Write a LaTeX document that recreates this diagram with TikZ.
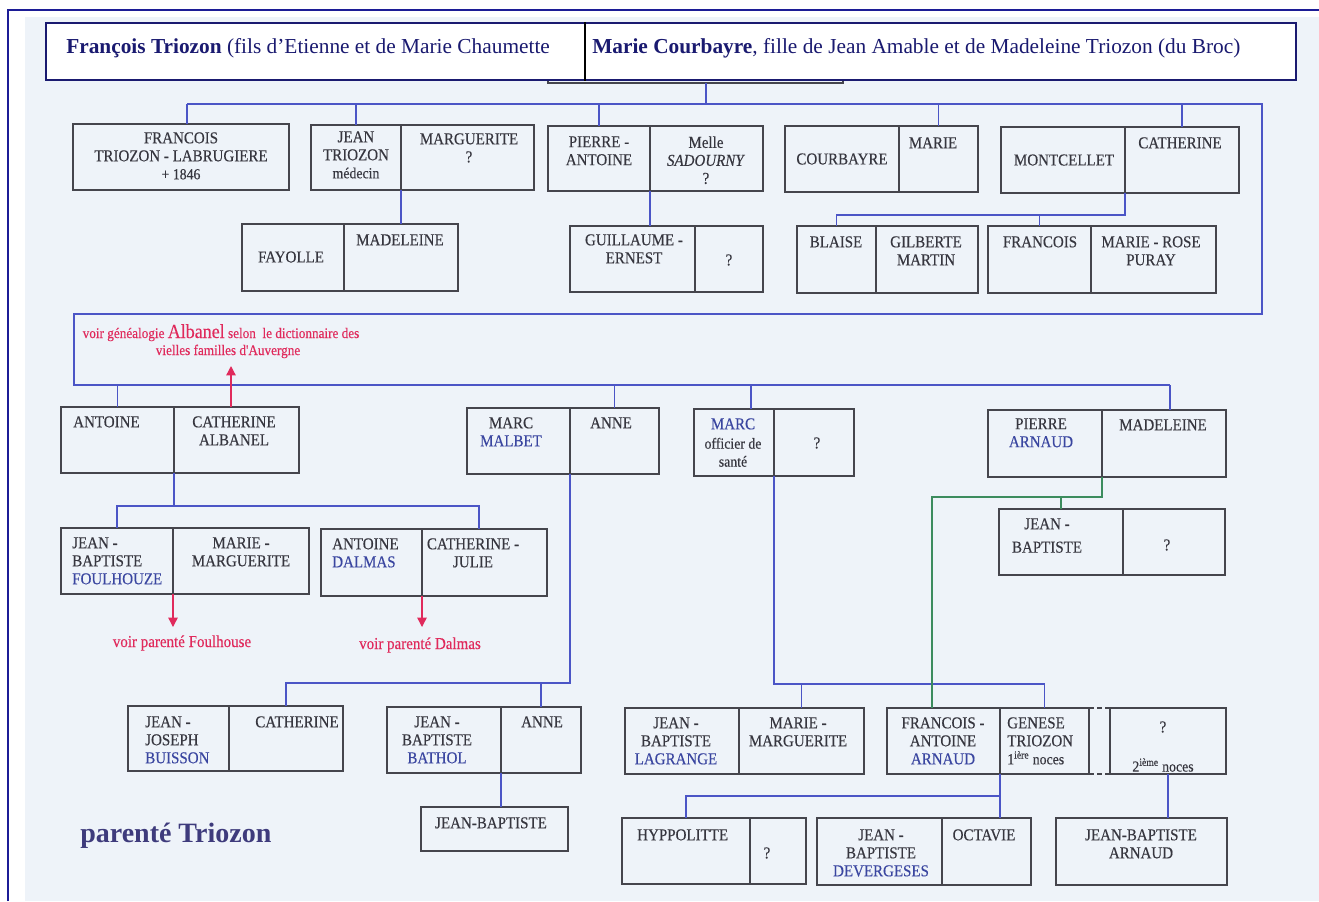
\documentclass[tikz,border=0pt]{standalone}
\usepackage{fontspec}
\setmainfont{Liberation Serif}
\newfontfamily\scanfont{Liberation Serif}[FakeStretch=0.9, FakeBold=0.3]
\usetikzlibrary{fit,arrows.meta}

\definecolor{frameblue}{HTML}{1C1C96}
\definecolor{headnavy}{HTML}{1A1A70}
\definecolor{scanbg}{HTML}{EEF3F9}
\definecolor{boxgray}{HTML}{45454D}
\definecolor{linkblue}{HTML}{4B55C6}
\definecolor{linkgreen}{HTML}{3C8C5E}
\definecolor{crimson}{HTML}{E02A5C}
\definecolor{txtgray}{HTML}{36363F}
\definecolor{nameblue}{HTML}{3A46A0}
\definecolor{titlenavy}{HTML}{3E3B7C}

\newcommand{\bx}{\scanfont\fontsize{12.5}{13.5}\selectfont}
\newcommand{\sm}{\fontsize{11.5}{12.5}\selectfont}
\newcommand{\nb}[1]{\textcolor{nameblue}{#1}}

\begin{document}
\begin{tikzpicture}[x=0.75pt,y=-0.75pt,
	half/.style={draw=boxgray, line width=1.1pt, inner sep=0pt, outer sep=0pt},
	nm/.style={text=txtgray, font=\bx, align=center, inner sep=0pt, anchor=north},
	nml/.style={nm, align=left, anchor=north west},
	lnk/.style={draw=linkblue, line width=0.9pt},
	grn/.style={draw=linkgreen, line width=0.9pt},
	rd/.style={draw=crimson, line width=1pt, -{Triangle[length=7pt,width=7pt]}},
	rtxt/.style={text=crimson, inner sep=0pt, anchor=base}]
	\useasboundingbox (0,0) rectangle (1319,901);
	\fill[scanbg] (25,17) rectangle (1319,901);
	\draw[frameblue, line width=1.5pt] (8,901) -- (8,10) -- (1319,10);

	% header
	\node[half, fit={(548,66)(843,83)}] (hid) {};
	\node[draw=headnavy, fill=white, line width=1.3pt, inner sep=0pt, fit={(46,23)(1296,80)}] (hd) {};
	\draw[black, line width=1pt] (hd.north -| 585,0) -- (hd.south -| 585,0);
	\node[anchor=base west, text=headnavy, font=\fontsize{16}{18}\selectfont, inner sep=0pt] (hdl) at (66,53) {\textbf{François Triozon} (fils d’Etienne et de Marie Chaumette};
	\node[anchor=base west, text=headnavy, font=\fontsize{16}{18}\selectfont, inner sep=0pt] (hdr) at (592,53) {\textbf{Marie Courbayre}, fille de Jean Amable et de Madeleine Triozon (du Broc)};

	% first generation
	\node[half, fit={(73,124)(289,190)}] (fran) {};
	\node[half, fit={(311,125)(401,190)}] (jeanL) {};
	\node[half, fit={(401,125)(534,190)}] (jeanR) {};
	\node[half, fit={(548,126)(650,191)}] (pierL) {};
	\node[half, fit={(650,126)(763,191)}] (pierR) {};
	\node[half, fit={(785,126)(899,192)}] (courL) {};
	\node[half, fit={(899,126)(978,192)}] (courR) {};
	\node[half, fit={(1001,127)(1125,193)}] (montL) {};
	\node[half, fit={(1125,127)(1239,193)}] (montR) {};

	\node[nm] (tFran) at (181,132) {FRANCOIS\\TRIOZON - LABRUGIERE\\{\sm + 1846}};
	\node[nm] (tJean) at (356,131) {JEAN\\TRIOZON\\{\sm médecin}};
	\node[nm] (tMarg) at (469,133) {MARGUERITE\\?};
	\node[nm] (tPier) at (599,136) {PIERRE -\\ANTOINE};
	\node[nm] (tSad) at (706,136) {Melle\\\textit{SADOURNY}\\?};
	\node[nm, anchor=center] (tCour) at (842,159) {COURBAYRE};
	\node[nm] (tMarie) at (933,137) {MARIE};
	\node[nm, anchor=center] (tMont) at (1064,160) {MONTCELLET};
	\node[nm] (tCath) at (1180,137) {CATHERINE};

	% second row
	\node[half, fit={(242,224)(344,291)}] (fayL) {};
	\node[half, fit={(344,224)(458,291)}] (fayR) {};
	\node[half, fit={(570,226)(695,292)}] (guilL) {};
	\node[half, fit={(695,226)(763,292)}] (guilR) {};
	\node[half, fit={(797,226)(876,293)}] (blaiL) {};
	\node[half, fit={(876,226)(978,293)}] (blaiR) {};
	\node[half, fit={(988,226)(1091,293)}] (fraL) {};
	\node[half, fit={(1091,226)(1216,293)}] (fraR) {};

	\node[nm, anchor=center] (tFay) at (291,257) {FAYOLLE};
	\node[nm] (tMad) at (400,234) {MADELEINE};
	\node[nm] (tGuil) at (634,234) {GUILLAUME -\\ERNEST};
	\node[nm, anchor=center] (tGq) at (729,260) {?};
	\node[nm] (tBla) at (836,236) {BLAISE};
	\node[nm] (tGil) at (926,236) {GILBERTE\\MARTIN};
	\node[nm] (tFra) at (1040,236) {FRANCOIS};
	\node[nm] (tRose) at (1151,236) {MARIE - ROSE\\PURAY};

	\coordinate (b1w) at (187,104);
	\coordinate (b1e) at (1262,104);
	\coordinate (b2w) at (74,314);
	\coordinate (b3e) at (1170,385);
	\coordinate (b8) at (1125,215);
	\draw[lnk] (hid.south -| 706,0) -- (706,104);
	\draw[lnk] (b1w) -- (b1e) -- (b1e |- b2w) -- (b2w) -- (b2w |- b3e) -- (b3e);
	\draw[lnk] (b1w) -- (b1w |- fran.north);
	\draw[lnk] (jeanL.north) -- (jeanL.north |- b1w);
	\draw[lnk] (pierL.north) -- (pierL.north |- b1w);
	\draw[lnk] (courR.north) -- (courR.north |- b1w);
	\draw[lnk] (montR.north) -- (montR.north |- b1w);
	\draw[lnk] (jeanL.south east) -- (jeanL.south east |- fayR.north);
	\draw[lnk] (pierL.south east) -- (pierL.south east |- guilL.north);
	\draw[lnk] (montL.south east) -- (b8) -| (blaiL.north);
	\draw[lnk] (b8 -| fraL.north) -- (fraL.north);

	% Albanel note
	\coordinate (ra) at (231,366);
	\node[rtxt, font=\scanfont\fontsize{11}{12}\selectfont] (alb1) at (221,338) {voir généalogie {\fontsize{15}{15}\selectfont Albanel} selon\ \ le dictionnaire des};
	\node[rtxt, font=\scanfont\fontsize{11}{12}\selectfont] (alb2) at (228,355) {vielles familles d'Auvergne};

	% third row
	\node[half, fit={(61,407)(174,473)}] (antL) {};
	\node[half, fit={(174,407)(299,473)}] (antR) {};
	\node[half, fit={(467,408)(570,474)}] (malL) {};
	\node[half, fit={(570,408)(659,474)}] (malR) {};
	\node[half, fit={(694,409)(774,476)}] (marcL) {};
	\node[half, fit={(774,409)(854,476)}] (marcR) {};
	\node[half, fit={(988,410)(1102,477)}] (arnL) {};
	\node[half, fit={(1102,410)(1226,477)}] (arnR) {};
	\node[half, fit={(999,509)(1123,575)}] (jbL) {};
	\node[half, fit={(1123,509)(1225,575)}] (jbR) {};

	\node[nml] (tAnt) at (73,416) {ANTOINE};
	\node[nm] (tCatA) at (234,416) {CATHERINE\\ALBANEL};
	\node[nm] (tMalb) at (511,417) {MARC\\\nb{MALBET}};
	\node[nm] (tAnne) at (611,417) {ANNE};
	\node[nm] (tMarc) at (733,418) {\nb{MARC}\\[1pt]{\sm officier de}\\{\sm santé}};
	\node[nm, anchor=center] (tMq) at (817,443) {?};
	\node[nm] (tPA) at (1041,418) {PIERRE\\\nb{ARNAUD}};
	\node[nm] (tMad2) at (1163,419) {MADELEINE};
	\node[nm] (tJB) at (1047,518) {JEAN -\\[4pt]BAPTISTE};
	\node[nm, anchor=center] (tJBq) at (1167,545) {?};

	\draw[lnk] (antL.north) -- (antL.north |- b3e);
	\draw[lnk] (malR.north) -- (malR.north |- b3e);
	\coordinate (dm) at (751,385);
	\draw[lnk] (dm) -- (dm |- marcL.north);
	\draw[lnk] (b3e) -- (b3e |- arnR.north);
	\draw[rd] (ra |- antR.north) -- (ra);

	% fourth row
	\node[half, fit={(61,528)(173,594)}] (fouL) {};
	\node[half, fit={(173,528)(309,594)}] (fouR) {};
	\node[half, fit={(321,529)(422,596)}] (dalL) {};
	\node[half, fit={(422,529)(547,596)}] (dalR) {};

	\node[nml] (tFou) at (72,537) {JEAN -\\BAPTISTE\\\nb{FOULHOUZE}};
	\node[nm] (tMM) at (241,537) {MARIE -\\MARGUERITE};
	\node[nml] (tDal) at (332,538) {ANTOINE\\\nb{DALMAS}};
	\node[nm] (tCJ) at (473,538) {CATHERINE -\\JULIE};

	\coordinate (b4e) at (479,506);
	\draw[lnk] (antL.south east) -- (antL.south east |- b4e);
	\draw[lnk] (fouL.north) |- (b4e) -- (b4e |- dalR.north);

	\coordinate (fh) at (173,627);
	\coordinate (dh) at (422,627);
	\draw[rd] (fouL.south east) -- (fh);
	\draw[rd] (dalL.south east) -- (dh);
	\node[rtxt, font=\scanfont\fontsize{12.5}{13}\selectfont] (fht) at (182,647) {voir parenté Foulhouse};
	\node[rtxt, font=\scanfont\fontsize{12.5}{13}\selectfont] (dht) at (420,649) {voir parenté Dalmas};

	% fifth row
	\node[half, fit={(128,706)(229,771)}] (buiL) {};
	\node[half, fit={(229,706)(343,771)}] (buiR) {};
	\node[half, fit={(387,707)(501,773)}] (batL) {};
	\node[half, fit={(501,707)(581,773)}] (batR) {};
	\node[half, fit={(421,807)(568,851)}] (jbb) {};
	\node[half, fit={(625,708)(739,774)}] (lagL) {};
	\node[half, fit={(739,708)(864,774)}] (lagR) {};
	\node[half, fit={(887,708)(1000,774)}] (genL) {};
	\node[half, fit={(1000,708)(1089,774)}] (genR) {};
	\node[half, fit={(1110,708)(1226,774)}] (sec) {};

	\node[nml] (tBui) at (145,716) {JEAN -\\JOSEPH\\\nb{BUISSON}};
	\node[nm] (tCat3) at (297,716) {CATHERINE};
	\node[nm] (tBat) at (437,716) {JEAN -\\BAPTISTE\\\nb{BATHOL}};
	\node[nm] (tAnne2) at (542,716) {ANNE};
	\node[nm] (tJbb) at (491,817) {JEAN-BAPTISTE};
	\node[nm] (tLag) at (676,717) {JEAN -\\BAPTISTE\\\nb{LAGRANGE}};
	\node[nm] (tMM2) at (798,717) {MARIE -\\MARGUERITE};
	\node[nm] (tFA) at (943,717) {FRANCOIS -\\ANTOINE\\\nb{ARNAUD}};
	\node[nml] (tGen) at (1007,717) {GENESE\\TRIOZON\\{\sm 1\textsuperscript{ière} noces}};
	\node[nm, anchor=center] (tSecq) at (1163,727) {?};
	\node[nm, anchor=center, font=\bx\sm] (tSec) at (1163,765) {2\textsuperscript{ième} noces};

	\coordinate (b5) at (570,683);
	\draw[lnk] (malL.south east) -- (b5) -| (buiR.north);
	\draw[lnk] (b5 -| batR.north) -- (batR.north);
	\draw[lnk] (batL.south east) -- (batL.south east |- jbb.north);
	\coordinate (b6) at (774,684);
	\draw[lnk] (marcL.south east) -- (b6) -| (genR.north);
	\draw[lnk] (b6 -| lagR.north) -- (lagR.north);
	\coordinate (g1) at (1102,497);
	\coordinate (g2) at (932,497);
	\draw[grn] (arnL.south east) -- (g1) -| (jbL.north);
	\draw[grn] (g1) -- (g2) -- (g2 |- genL.north);
	\draw[boxgray, line width=1.1pt, dash pattern=on 3.5pt off 2.5pt] (genR.north east) -- (sec.north west);
	\draw[boxgray, line width=1.1pt, dash pattern=on 3.5pt off 2.5pt] (genR.south east) -- (sec.south west);

	% sixth row
	\node[half, fit={(622,818)(750,884)}] (hypL) {};
	\node[half, fit={(750,818)(806,884)}] (hypR) {};
	\node[half, fit={(817,818)(942,885)}] (devL) {};
	\node[half, fit={(942,818)(1031,885)}] (devR) {};
	\node[half, fit={(1056,818)(1227,885)}] (jba) {};

	\node[nml] (tHyp) at (637,829) {HYPPOLITTE};
	\node[nm, anchor=center] (tHq) at (767,853) {?};
	\node[nm] (tDev) at (881,829) {JEAN -\\BAPTISTE\\\nb{DEVERGESES}};
	\node[nm] (tOct) at (984,829) {OCTAVIE};
	\node[nm] (tJba) at (1141,829) {JEAN-BAPTISTE\\ARNAUD};

	\coordinate (b7) at (1000,796);
	\draw[lnk] (genL.south east) -- (genL.south east |- devR.north);
	\draw[lnk] (b7) -| (hypL.north);
	\draw[lnk] (sec.south) -- (sec.south |- jba.north);

	\node[anchor=base west, text=titlenavy, font=\fontsize{21}{24}\selectfont\bfseries, inner sep=0pt] (ttl) at (80,842) {parenté Triozon};
\end{tikzpicture}
\end{document}
